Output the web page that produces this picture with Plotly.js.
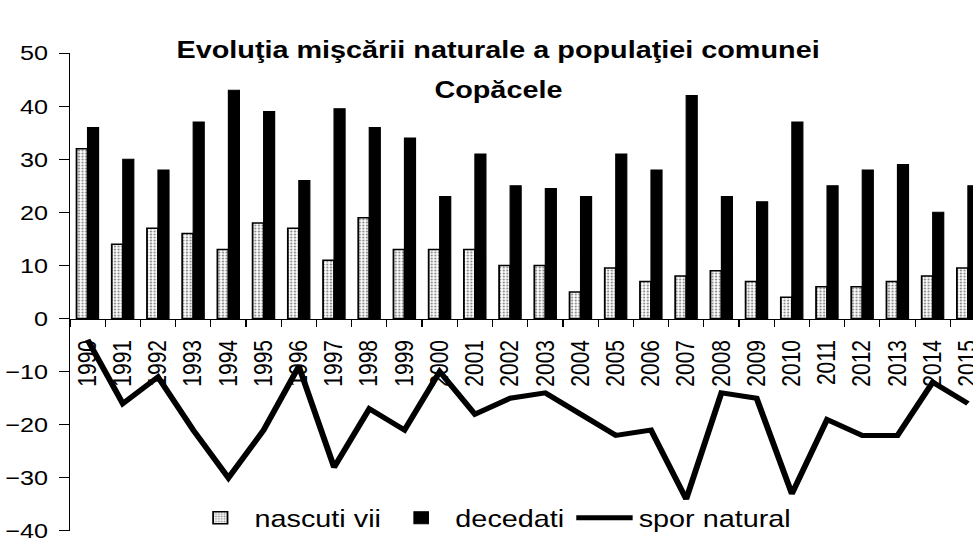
<!DOCTYPE html>
<html>
<head>
<meta charset="utf-8">
<script src="https://cdn.plot.ly/plotly-3.0.1.min.js"></script>
<style>
  html, body { margin: 0; padding: 0; background: #ffffff; overflow: hidden; }
  /* the scanned chart is stretched horizontally, so the plot is drawn narrower and widened */
  #chart { width: 811px; height: 547px; transform: scaleX(1.2); transform-origin: 0 0; }
</style>
</head>
<body>
<div id="chart"></div>
<script>
const years = ['1990', '1991', '1992', '1993', '1994', '1995', '1996', '1997', '1998', '1999',
  '2000', '2001', '2002', '2003', '2004', '2005', '2006', '2007', '2008', '2009',
  '2010', '2011', '2012', '2013', '2014', '2015'];
const nascutiVii = [32, 14, 17, 16, 13, 18, 17, 11, 19, 13, 13, 13, 10, 10, 5, 9.5, 7, 8, 9, 7, 4, 6, 6, 7, 8, 9.5];
const decedati = [36, 30, 28, 37, 43, 39, 26, 39.5, 36, 34, 23, 31, 25, 24.5, 23, 31, 28, 42, 23, 22, 37, 25, 28, 29, 20, 25];
const sporNatural = [-4, -16, -11, -21, -30, -21, -9, -28, -17, -21, -10, -18, -15, -14, -18, -22, -21, -34, -14, -15, -33, -19, -22, -22, -12, -16];
const yTicks = [-40, -30, -20, -10, 0, 10, 20, 30, 40, 50];

const font = 'Liberation Sans, Arial, sans-serif';

// main plot area inside the frame
const yDomain = [0.03, 0.925];
const xDomain = [0.0638, 1];

const traces = [
  {
    x: years,
    y: nascutiVii,
    type: 'bar',
    name: 'nascuti vii',
    marker: {
      color: '#e6e6e6',
      line: { color: '#000000', width: 1.5 },
      pattern: { shape: '.', bgcolor: '#ffffff', fgcolor: '#8a8a8a', size: 3, solidity: 0.35 }
    }
  },
  {
    x: years,
    y: decedati,
    type: 'bar',
    name: 'decedati',
    marker: { color: '#000000', line: { color: '#000000', width: 1 } }
  },
  {
    x: years,
    y: sporNatural,
    type: 'scatter',
    mode: 'lines',
    name: 'spor natural',
    line: { color: '#000000', width: 5 }
  }
];

const layout = {
  width: 811,
  height: 547,
  margin: { l: 7, r: 0, t: 13, b: 0 },
  paper_bgcolor: '#ffffff',
  plot_bgcolor: 'rgba(0,0,0,0)',
  font: { family: font, color: '#000000', size: 21 },
  barmode: 'group',
  bargap: 0.375,
  bargroupgap: 0,
  showlegend: true,
  legend: {
    orientation: 'h',
    x: 0.1842,
    y: 0.0541,
    xanchor: 'left',
    yanchor: 'middle',
    itemwidth: 47,
    bgcolor: 'rgba(0,0,0,0)',
    font: { family: font, size: 24, color: '#000000' },
    traceorder: 'normal'
  },
  xaxis: {
    type: 'category',
    domain: xDomain,
    range: [-0.5, 25.15],
    anchor: 'free',
    position: yDomain[0] + (40 / 90) * (yDomain[1] - yDomain[0]),
    showline: true,
    linecolor: '#000000',
    linewidth: 1,
    showgrid: false,
    zeroline: false,
    ticks: 'outside',
    tickson: 'boundaries',
    ticklen: 7,
    tickcolor: '#000000',
    tickangle: -90,
    ticklabelstandoff: 12,
    tickfont: { family: font, size: 21, color: '#000000' }
  },
  yaxis: {
    domain: yDomain,
    range: [-40, 50],
    tickvals: yTicks,
    anchor: 'x',
    showline: true,
    linecolor: '#000000',
    linewidth: 1,
    showgrid: false,
    zeroline: false,
    ticks: 'outside',
    ticklen: 8,
    tickcolor: '#000000',
    ticklabelstandoff: 5,
    tickfont: { family: font, size: 21, color: '#000000' }
  },
  // frame round the chart area, drawn as the lines of an empty pair of axes;
  // only its top and left sides fall inside the picture
  xaxis2: {
    domain: [0, 1], anchor: 'y2', side: 'top', range: [0, 1],
    showline: true, linecolor: '#000000', linewidth: 2,
    showticklabels: false, ticks: '', showgrid: false, zeroline: false
  },
  yaxis2: {
    domain: [0, 1], anchor: 'x2', side: 'left', range: [0, 1],
    showline: true, linecolor: '#000000', linewidth: 2,
    showticklabels: false, ticks: '', showgrid: false, zeroline: false
  },
  annotations: [
    {
      text: '<b>Evoluţia mişcării naturale a populaţiei comunei</b>',
      xref: 'paper', yref: 'paper', x: 0.5075, y: 0.9313,
      xanchor: 'center', yanchor: 'middle', showarrow: false,
      font: { family: font, size: 24, color: '#000000' }
    },
    {
      text: '<b>Copăcele</b>',
      xref: 'paper', yref: 'paper', x: 0.5075, y: 0.8571,
      xanchor: 'center', yanchor: 'middle', showarrow: false,
      font: { family: font, size: 24, color: '#000000' }
    }
  ]
};

Plotly.newPlot('chart', traces, layout, { displayModeBar: false, staticPlot: true });
</script>
</body>
</html>
